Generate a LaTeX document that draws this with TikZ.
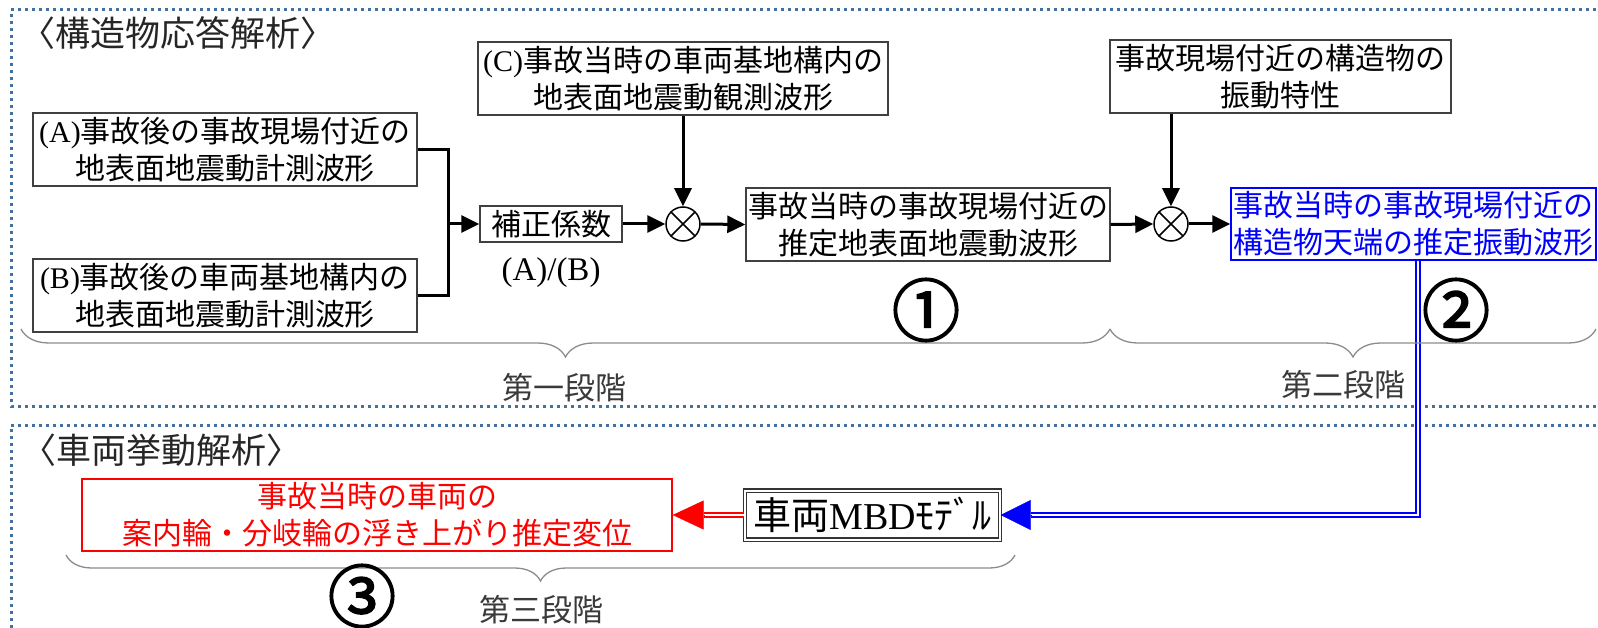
\documentclass[tikz,border=0pt]{standalone}
\usepackage{fontspec}
\setmainfont{Noto Sans CJK JP}
\newfontfamily\circfont{Noto Sans CJK JP}[FakeBold=2.5]
\newfontfamily\lat{Liberation Serif}
\usetikzlibrary{arrows.meta,decorations.pathreplacing,calc}
\definecolor{dotblue}{HTML}{41719C}
\definecolor{boxgray}{HTML}{404040}
\definecolor{bracegray}{HTML}{8C8C8C}
\definecolor{labgray}{HTML}{3A3A3A}
\begin{document}
\begin{tikzpicture}[x=1pt,y=-1pt,
  box/.style={draw=boxgray, line width=1.4pt, inner sep=0pt, align=center,
    font=\fontsize{30}{37}\selectfont, text=black},
  conn/.style={line width=3pt, black, line join=miter},
  arr/.style={conn, -{Triangle[length=18pt,width=17pt]}},
  mult/.style={circle, draw=black, line width=1.5pt, minimum size=34pt, inner sep=0pt,
    path picture={\draw[line width=1.5pt]
      (path picture bounding box.north west) -- (path picture bounding box.south east)
      (path picture bounding box.north east) -- (path picture bounding box.south west);}},
  dotframe/.style={dotblue, line width=3pt, dash pattern=on 3pt off 4pt},
  bracestyle/.style={draw=bracegray, line width=1.3pt, decorate,
    decoration={brace, amplitude=#1}},
  bdouble/.style={draw=blue, line width=1.6pt, double=white, double distance=2pt, line join=miter},
  rdouble/.style={draw=red, line width=1.6pt, double=white, double distance=2pt},
  titletext/.style={inner sep=0pt, font=\fontsize{35}{38}\selectfont, text=black!85},
  stagetext/.style={inner sep=0pt, font=\fontsize{31}{36}\selectfont, text=labgray},
  circnum/.style={inner sep=0pt, font=\circfont\fontsize{68}{70}\selectfont, text=black}
]
\useasboundingbox (0,0) rectangle (1598,628);
\clip (0,0) rectangle (1598,628);

% dotted frames
\draw[dotframe] (1610,10) -- (11,10) -- (11,406) -- (1610,406);
\draw[dotframe] (1610,425) -- (11,425) -- (11,640);

% titles
\node[titletext] (t1) at (178,33) {〈構造物応答解析〉};
\node[titletext] (t2) at (161,450) {〈車両挙動解析〉};

% boxes
\node[box, minimum width=384pt, minimum height=73pt] (A) at (225,149.5)
  {{\lat (A)}事故後の事故現場付近の\\地表面地震動計測波形};
\node[box, minimum width=384pt, minimum height=73pt] (B) at (225,295.5)
  {{\lat (B)}事故後の車両基地構内の\\地表面地震動計測波形};
\node[box, minimum width=142pt, minimum height=36pt] (K) at (551,224) {補正係数};
\node[inner sep=0pt, font=\lat\fontsize{33}{36}\selectfont] (AB) at (551,273) {(A)/(B)};
\node[mult] (X1) at (683,224) {};
\node[box, minimum width=410pt, minimum height=73pt] (C) at (683,78.5)
  {{\lat (C)}事故当時の車両基地構内の\\地表面地震動観測波形};
\node[box, minimum width=364pt, minimum height=73pt] (D) at (928,224.5)
  {事故当時の事故現場付近の\\推定地表面地震動波形};
\node[mult] (X2) at (1171,224) {};
\node[box, minimum width=341pt, minimum height=73pt] (E) at (1280.5,76.5)
  {事故現場付近の構造物の\\振動特性};
\node[box, draw=blue, line width=1.3pt, text=blue, minimum width=365pt, minimum height=72pt] (F) at (1413.5,224)
  {事故当時の事故現場付近の\\構造物天端の推定振動波形};
\node[box, draw=red, line width=1.3pt, text=red, minimum width=590pt, minimum height=72pt] (G) at (377,515)
  {事故当時の車両の\\案内輪・分岐輪の浮き上がり推定変位};
\node[box, draw=black!80, line width=1.3pt, double=white, double distance=2pt,
  minimum width=255pt, minimum height=49pt, font=\fontsize{38}{40}\selectfont] (M) at (872.5,515)
  {車両{\lat MBD}ﾓﾃﾞﾙ};

% connectors
\coordinate (jn) at (448,224);
\draw[conn] (A.east) -| (jn) |- (B.east);
\draw[arr] (jn) -- (K.west);
\draw[arr] (K.east) -- (X1.west);
\draw[arr] (C.south) -- (X1.north);
\draw[arr] (X1.east) -- (D.west);
\draw[arr] (D.east) -- (X2.west);
\draw[arr] (E.south -| X2) -- (X2.north);
\draw[arr] (X2.east) -- (F.west);

% blue double connector
\coordinate (bx) at (1418,0);
\coordinate (bbase) at ($(M.east)+(30,0)$);
\draw[bdouble] (F.south -| bx) |- (bbase);
\draw[blue, line width=0.5pt, -{Triangle[length=30pt,width=30pt]}] (bbase) -- (M.east);

% red double connector
\coordinate (rbase) at ($(G.east)+(31,0)$);
\draw[rdouble] (M.west) -- (rbase);
\draw[red, line width=0.5pt, -{Triangle[length=31pt,width=29pt]}] (rbase) -- (G.east);

% braces
\draw[bracestyle=28pt] (1110,329) -- (21,329);
\draw[bracestyle=28pt] (1596,329) -- (1110,329);
\draw[bracestyle=26pt] (1015,555) -- (66,555);

% stage labels
\node[stagetext] (s1) at (564,388) {第一段階};
\node[stagetext] (s2) at (1343,385) {第二段階};
\node[stagetext] (s3) at (541,610) {第三段階};

% circled numbers
\node[circnum] (n1) at (926,310) {①};
\node[circnum] (n2) at (1456,310) {②};
\node[circnum] (n3) at (362,596) {③};
\end{tikzpicture}
\end{document}
